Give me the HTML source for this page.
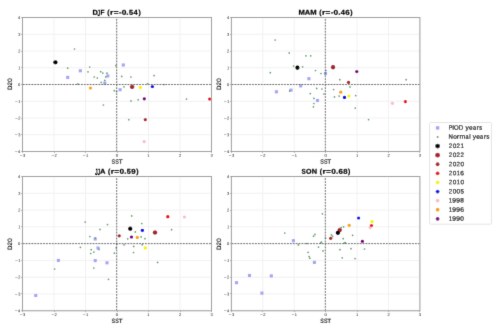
<!DOCTYPE html><html><head><meta charset="utf-8"><style>html,body{margin:0;padding:0;background:#fff;}svg{display:block;will-change:transform;}text{font-family:"Liberation Sans",sans-serif;}</style></head><body>
<svg width="500" height="330" viewBox="0 0 500 330">
<defs><filter id="bl" x="0" y="0" width="500" height="330" filterUnits="userSpaceOnUse"><feConvolveMatrix order="3" kernelMatrix="0.0100 0.0800 0.0100 0.0800 0.6400 0.0800 0.0100 0.0800 0.0100" edgeMode="duplicate"/></filter></defs>
<rect width="500" height="330" fill="#fff"/><g filter="url(#bl)">
<path d="M22.50 17.50V151.50M54.00 17.50V151.50M85.50 17.50V151.50M117.00 17.50V151.50M148.50 17.50V151.50M180.00 17.50V151.50M211.50 17.50V151.50M22.50 151.50H211.50M22.50 134.75H211.50M22.50 118.00H211.50M22.50 101.25H211.50M22.50 84.50H211.50M22.50 67.75H211.50M22.50 51.00H211.50M22.50 34.25H211.50M22.50 17.50H211.50" stroke="#f1f1f1" stroke-width="1" fill="none"/>
<rect x="78.80" y="69.25" width="3.10" height="3.10" fill="#a4a4f6"/>
<rect x="66.15" y="75.85" width="3.10" height="3.10" fill="#a4a4f6"/>
<rect x="106.25" y="74.35" width="3.10" height="3.10" fill="#a4a4f6"/>
<rect x="103.25" y="81.55" width="3.10" height="3.10" fill="#a4a4f6"/>
<rect x="118.55" y="88.15" width="3.10" height="3.10" fill="#a4a4f6"/>
<rect x="121.75" y="63.45" width="3.10" height="3.10" fill="#a4a4f6"/>
<circle cx="74.50" cy="49.00" r="0.85" fill="#5f9c66"/>
<circle cx="67.70" cy="68.20" r="0.85" fill="#5f9c66"/>
<circle cx="89.70" cy="67.00" r="0.85" fill="#5f9c66"/>
<circle cx="88.00" cy="71.80" r="0.85" fill="#5f9c66"/>
<circle cx="94.20" cy="77.00" r="0.85" fill="#5f9c66"/>
<circle cx="97.30" cy="78.00" r="0.85" fill="#5f9c66"/>
<circle cx="100.70" cy="71.70" r="0.85" fill="#5f9c66"/>
<circle cx="102.80" cy="73.10" r="0.85" fill="#5f9c66"/>
<circle cx="107.00" cy="73.20" r="0.85" fill="#5f9c66"/>
<circle cx="105.80" cy="76.90" r="0.85" fill="#5f9c66"/>
<circle cx="104.80" cy="80.40" r="0.85" fill="#5f9c66"/>
<circle cx="101.20" cy="82.40" r="0.85" fill="#5f9c66"/>
<circle cx="77.90" cy="83.90" r="0.85" fill="#5f9c66"/>
<circle cx="115.80" cy="65.70" r="0.85" fill="#5f9c66"/>
<circle cx="121.70" cy="76.40" r="0.85" fill="#5f9c66"/>
<circle cx="130.90" cy="77.00" r="0.85" fill="#5f9c66"/>
<circle cx="147.60" cy="83.60" r="0.85" fill="#5f9c66"/>
<circle cx="124.00" cy="86.80" r="0.85" fill="#5f9c66"/>
<circle cx="114.30" cy="90.70" r="0.85" fill="#5f9c66"/>
<circle cx="116.60" cy="91.60" r="0.85" fill="#5f9c66"/>
<circle cx="138.20" cy="99.80" r="0.85" fill="#5f9c66"/>
<circle cx="131.00" cy="100.90" r="0.85" fill="#5f9c66"/>
<circle cx="103.40" cy="105.00" r="0.85" fill="#5f9c66"/>
<circle cx="154.10" cy="75.60" r="0.85" fill="#5f9c66"/>
<circle cx="163.90" cy="84.50" r="0.85" fill="#5f9c66"/>
<circle cx="186.50" cy="99.10" r="0.85" fill="#5f9c66"/>
<circle cx="128.80" cy="119.70" r="0.85" fill="#5f9c66"/>
<circle cx="144.30" cy="98.80" r="1.60" fill="#7a067a"/>
<circle cx="90.40" cy="88.00" r="1.60" fill="#f7a20c"/>
<circle cx="144.20" cy="141.70" r="1.60" fill="#f6bfca"/>
<circle cx="152.40" cy="86.50" r="1.60" fill="#0808e8"/>
<circle cx="140.40" cy="87.40" r="1.60" fill="#f8f200"/>
<circle cx="209.70" cy="99.10" r="1.60" fill="#ee0a14"/>
<circle cx="145.30" cy="119.60" r="1.60" fill="#a52a2a"/>
<circle cx="132.10" cy="86.80" r="1.85" fill="#ac1f29" stroke="#701018" stroke-width="0.5"/>
<circle cx="55.35" cy="62.30" r="2.10" fill="#000000"/>
<path d="M22.50 84.50H211.50" stroke="#4a4a4a" stroke-width="0.85" stroke-dasharray="1.75 1.16" stroke-dashoffset="-0.31" fill="none"/>
<path d="M116.65 151.50V17.50" stroke="#4a4a4a" stroke-width="0.85" stroke-dasharray="1.8 1.17" stroke-dashoffset="-0.1" fill="none"/>
<rect x="22.50" y="17.50" width="189.00" height="134.00" fill="none" stroke="#a0a0a0" stroke-width="1"/>
<path d="M22.50 151.50v1.4M54.50 151.50v1.4M85.50 151.50v1.4M117.50 151.50v1.4M148.50 151.50v1.4M180.50 151.50v1.4M211.50 151.50v1.4M22.50 151.50h-1.4M22.50 134.50h-1.4M22.50 118.50h-1.4M22.50 101.50h-1.4M22.50 84.50h-1.4M22.50 67.50h-1.4M22.50 51.50h-1.4M22.50 34.50h-1.4M22.50 17.50h-1.4" stroke="#a0a0a0" stroke-width="0.8" fill="none"/>
<text transform="rotate(0.05 19.57 156.85)" y="156.85" font-size="4.132"><tspan x="19.74" y="156.85" textLength="2.934" lengthAdjust="spacingAndGlyphs">−</tspan><tspan x="22.99" y="156.85" textLength="2.196" lengthAdjust="spacingAndGlyphs">3</tspan></text>
<text transform="rotate(0.05 51.11 156.85)" y="156.85" font-size="4.132"><tspan x="51.28" y="156.85" textLength="2.934" lengthAdjust="spacingAndGlyphs">−</tspan><tspan x="54.47" y="156.85" textLength="2.204" lengthAdjust="spacingAndGlyphs">2</tspan></text>
<text transform="rotate(0.05 82.60 156.85)" y="156.85" font-size="4.132"><tspan x="82.76" y="156.85" textLength="2.934" lengthAdjust="spacingAndGlyphs">−</tspan><tspan x="86.00" y="156.85" textLength="2.184" lengthAdjust="spacingAndGlyphs">1</tspan></text>
<text transform="rotate(0.05 115.76 156.85)" y="156.85" font-size="4.132"><tspan x="115.86" y="156.85" textLength="2.286" lengthAdjust="spacingAndGlyphs">0</tspan></text>
<text transform="rotate(0.05 147.23 156.85)" y="156.85" font-size="4.132"><tspan x="147.35" y="156.85" textLength="2.184" lengthAdjust="spacingAndGlyphs">1</tspan></text>
<text transform="rotate(0.05 178.81 156.85)" y="156.85" font-size="4.132"><tspan x="178.90" y="156.85" textLength="2.204" lengthAdjust="spacingAndGlyphs">2</tspan></text>
<text transform="rotate(0.05 210.27 156.85)" y="156.85" font-size="4.132"><tspan x="210.41" y="156.85" textLength="2.196" lengthAdjust="spacingAndGlyphs">3</tspan></text>
<text transform="rotate(0.05 14.62 152.92)" y="152.92" font-size="4.132"><tspan x="14.79" y="152.92" textLength="2.934" lengthAdjust="spacingAndGlyphs">−</tspan><tspan x="17.98" y="152.92" textLength="2.287" lengthAdjust="spacingAndGlyphs">4</tspan></text>
<text transform="rotate(0.05 14.71 136.17)" y="136.17" font-size="4.132"><tspan x="14.88" y="136.17" textLength="2.934" lengthAdjust="spacingAndGlyphs">−</tspan><tspan x="18.13" y="136.17" textLength="2.196" lengthAdjust="spacingAndGlyphs">3</tspan></text>
<text transform="rotate(0.05 14.79 119.42)" y="119.42" font-size="4.132"><tspan x="14.96" y="119.42" textLength="2.934" lengthAdjust="spacingAndGlyphs">−</tspan><tspan x="18.15" y="119.42" textLength="2.204" lengthAdjust="spacingAndGlyphs">2</tspan></text>
<text transform="rotate(0.05 14.76 102.67)" y="102.67" font-size="4.132"><tspan x="14.93" y="102.67" textLength="2.934" lengthAdjust="spacingAndGlyphs">−</tspan><tspan x="18.16" y="102.67" textLength="2.184" lengthAdjust="spacingAndGlyphs">1</tspan></text>
<text transform="rotate(0.05 17.93 85.92)" y="85.92" font-size="4.132"><tspan x="18.02" y="85.92" textLength="2.286" lengthAdjust="spacingAndGlyphs">0</tspan></text>
<text transform="rotate(0.05 18.03 69.17)" y="69.17" font-size="4.132"><tspan x="18.16" y="69.17" textLength="2.184" lengthAdjust="spacingAndGlyphs">1</tspan></text>
<text transform="rotate(0.05 18.06 52.42)" y="52.42" font-size="4.132"><tspan x="18.15" y="52.42" textLength="2.204" lengthAdjust="spacingAndGlyphs">2</tspan></text>
<text transform="rotate(0.05 17.98 35.67)" y="35.67" font-size="4.132"><tspan x="18.13" y="35.67" textLength="2.196" lengthAdjust="spacingAndGlyphs">3</tspan></text>
<text transform="rotate(0.05 17.89 18.92)" y="18.92" font-size="4.132"><tspan x="17.98" y="18.92" textLength="2.287" lengthAdjust="spacingAndGlyphs">4</tspan></text>
<text transform="rotate(0.05 111.35 163.75)" y="163.75" font-size="6.252" stroke="#000" stroke-width="0.12"><tspan x="111.50" y="163.75" textLength="3.508" lengthAdjust="spacingAndGlyphs">S</tspan><tspan x="115.25" y="163.75" textLength="3.508" lengthAdjust="spacingAndGlyphs">S</tspan><tspan x="118.68" y="163.75" textLength="3.931" lengthAdjust="spacingAndGlyphs">T</tspan></text>
<text transform="translate(12.10 84.00) rotate(-89.95)" y="0.00" font-size="6.305" stroke="#000" stroke-width="0.12"><tspan x="-6.09" y="0.00" textLength="4.446" lengthAdjust="spacingAndGlyphs">D</tspan><tspan x="-1.46" y="0.00" textLength="3.362" lengthAdjust="spacingAndGlyphs">2</tspan><tspan x="2.34" y="0.00" textLength="3.488" lengthAdjust="spacingAndGlyphs">0</tspan></text>
<text transform="rotate(0.05 92.39 14.70)" y="14.70" font-size="6.993" font-weight="bold" stroke="#000" stroke-width="0.22"><tspan x="92.51" y="14.70" textLength="5.332" lengthAdjust="spacingAndGlyphs">D</tspan><tspan x="97.43" y="15.94" font-size="8.789" textLength="2.609" lengthAdjust="spacingAndGlyphs">J</tspan><tspan x="100.49" y="14.70" textLength="4.032" lengthAdjust="spacingAndGlyphs">F</tspan><tspan x="104.84" y="14.70"> </tspan><tspan x="107.36" y="14.70" textLength="2.266" lengthAdjust="spacingAndGlyphs">(</tspan><tspan x="110.13" y="14.70" textLength="3.387" lengthAdjust="spacingAndGlyphs">r</tspan><tspan x="113.76" y="14.70" textLength="4.811" lengthAdjust="spacingAndGlyphs">=</tspan><tspan x="118.98" y="14.70" textLength="2.654" lengthAdjust="spacingAndGlyphs">-</tspan><tspan x="121.66" y="14.70" textLength="4.632" lengthAdjust="spacingAndGlyphs">0</tspan><tspan x="126.38" y="14.70" textLength="2.284" lengthAdjust="spacingAndGlyphs">.</tspan><tspan x="129.06" y="14.70" textLength="4.049" lengthAdjust="spacingAndGlyphs">5</tspan><tspan x="133.55" y="14.70" textLength="4.146" lengthAdjust="spacingAndGlyphs">4</tspan><tspan x="138.48" y="14.70" textLength="2.266" lengthAdjust="spacingAndGlyphs">)</tspan></text>
<path d="M231.40 17.50V151.50M262.82 17.50V151.50M294.23 17.50V151.50M325.65 17.50V151.50M357.07 17.50V151.50M388.48 17.50V151.50M419.90 17.50V151.50M231.40 151.50H419.90M231.40 134.75H419.90M231.40 118.00H419.90M231.40 101.25H419.90M231.40 84.50H419.90M231.40 67.75H419.90M231.40 51.00H419.90M231.40 34.25H419.90M231.40 17.50H419.90" stroke="#f1f1f1" stroke-width="1" fill="none"/>
<rect x="307.35" y="77.15" width="3.10" height="3.10" fill="#a4a4f6"/>
<rect x="323.95" y="71.95" width="3.10" height="3.10" fill="#a4a4f6"/>
<rect x="299.15" y="84.35" width="3.10" height="3.10" fill="#a4a4f6"/>
<rect x="289.45" y="88.55" width="3.10" height="3.10" fill="#a4a4f6"/>
<rect x="274.85" y="90.25" width="3.10" height="3.10" fill="#a4a4f6"/>
<rect x="315.95" y="98.95" width="3.10" height="3.10" fill="#a4a4f6"/>
<circle cx="275.20" cy="40.00" r="0.85" fill="#5f9c66"/>
<circle cx="289.20" cy="52.90" r="0.85" fill="#5f9c66"/>
<circle cx="306.00" cy="55.80" r="0.85" fill="#5f9c66"/>
<circle cx="310.70" cy="55.80" r="0.85" fill="#5f9c66"/>
<circle cx="293.60" cy="66.10" r="0.85" fill="#5f9c66"/>
<circle cx="302.60" cy="66.80" r="0.85" fill="#5f9c66"/>
<circle cx="315.50" cy="70.50" r="0.85" fill="#5f9c66"/>
<circle cx="270.30" cy="72.70" r="0.85" fill="#5f9c66"/>
<circle cx="321.00" cy="73.50" r="0.85" fill="#5f9c66"/>
<circle cx="339.80" cy="79.70" r="0.85" fill="#5f9c66"/>
<circle cx="350.00" cy="86.90" r="0.85" fill="#5f9c66"/>
<circle cx="316.70" cy="88.40" r="0.85" fill="#5f9c66"/>
<circle cx="321.90" cy="89.00" r="0.85" fill="#5f9c66"/>
<circle cx="333.60" cy="89.50" r="0.85" fill="#5f9c66"/>
<circle cx="289.70" cy="90.90" r="0.85" fill="#5f9c66"/>
<circle cx="310.30" cy="93.60" r="0.85" fill="#5f9c66"/>
<circle cx="323.90" cy="94.00" r="0.85" fill="#5f9c66"/>
<circle cx="334.50" cy="96.90" r="0.85" fill="#5f9c66"/>
<circle cx="339.10" cy="96.10" r="0.85" fill="#5f9c66"/>
<circle cx="355.70" cy="95.60" r="0.85" fill="#5f9c66"/>
<circle cx="313.90" cy="98.40" r="0.85" fill="#5f9c66"/>
<circle cx="313.90" cy="103.50" r="0.85" fill="#5f9c66"/>
<circle cx="313.40" cy="106.80" r="0.85" fill="#5f9c66"/>
<circle cx="355.30" cy="108.10" r="0.85" fill="#5f9c66"/>
<circle cx="368.60" cy="119.60" r="0.85" fill="#5f9c66"/>
<circle cx="406.10" cy="79.70" r="0.85" fill="#5f9c66"/>
<circle cx="325.90" cy="70.50" r="0.85" fill="#5f9c66"/>
<circle cx="356.80" cy="71.60" r="1.60" fill="#7a067a"/>
<circle cx="340.70" cy="92.20" r="1.60" fill="#f7a20c"/>
<circle cx="392.40" cy="103.30" r="1.60" fill="#f6bfca"/>
<circle cx="344.50" cy="97.40" r="1.60" fill="#0808e8"/>
<circle cx="348.90" cy="96.00" r="1.60" fill="#f8f200"/>
<circle cx="405.40" cy="101.60" r="1.60" fill="#ee0a14"/>
<circle cx="348.50" cy="82.40" r="1.60" fill="#a52a2a"/>
<circle cx="333.05" cy="67.20" r="1.85" fill="#ac1f29" stroke="#701018" stroke-width="0.5"/>
<circle cx="297.40" cy="67.70" r="2.10" fill="#000000"/>
<path d="M231.40 84.50H419.90" stroke="#4a4a4a" stroke-width="0.85" stroke-dasharray="1.75 1.16" stroke-dashoffset="-0.31" fill="none"/>
<path d="M325.30 151.50V17.50" stroke="#4a4a4a" stroke-width="0.85" stroke-dasharray="1.8 1.17" stroke-dashoffset="-0.1" fill="none"/>
<rect x="231.40" y="17.50" width="188.50" height="134.00" fill="none" stroke="#a0a0a0" stroke-width="1"/>
<path d="M231.50 151.50v1.4M262.50 151.50v1.4M294.50 151.50v1.4M325.50 151.50v1.4M357.50 151.50v1.4M388.50 151.50v1.4M419.50 151.50v1.4M231.40 151.50h-1.4M231.40 134.50h-1.4M231.40 118.50h-1.4M231.40 101.50h-1.4M231.40 84.50h-1.4M231.40 67.50h-1.4M231.40 51.50h-1.4M231.40 34.50h-1.4M231.40 17.50h-1.4" stroke="#a0a0a0" stroke-width="0.8" fill="none"/>
<text transform="rotate(0.05 228.47 156.85)" y="156.85" font-size="4.132"><tspan x="228.64" y="156.85" textLength="2.934" lengthAdjust="spacingAndGlyphs">−</tspan><tspan x="231.89" y="156.85" textLength="2.196" lengthAdjust="spacingAndGlyphs">3</tspan></text>
<text transform="rotate(0.05 259.93 156.85)" y="156.85" font-size="4.132"><tspan x="260.10" y="156.85" textLength="2.934" lengthAdjust="spacingAndGlyphs">−</tspan><tspan x="263.28" y="156.85" textLength="2.204" lengthAdjust="spacingAndGlyphs">2</tspan></text>
<text transform="rotate(0.05 291.33 156.85)" y="156.85" font-size="4.132"><tspan x="291.50" y="156.85" textLength="2.934" lengthAdjust="spacingAndGlyphs">−</tspan><tspan x="294.73" y="156.85" textLength="2.184" lengthAdjust="spacingAndGlyphs">1</tspan></text>
<text transform="rotate(0.05 324.41 156.85)" y="156.85" font-size="4.132"><tspan x="324.51" y="156.85" textLength="2.286" lengthAdjust="spacingAndGlyphs">0</tspan></text>
<text transform="rotate(0.05 355.79 156.85)" y="156.85" font-size="4.132"><tspan x="355.92" y="156.85" textLength="2.184" lengthAdjust="spacingAndGlyphs">1</tspan></text>
<text transform="rotate(0.05 387.30 156.85)" y="156.85" font-size="4.132"><tspan x="387.38" y="156.85" textLength="2.204" lengthAdjust="spacingAndGlyphs">2</tspan></text>
<text transform="rotate(0.05 418.67 156.85)" y="156.85" font-size="4.132"><tspan x="418.81" y="156.85" textLength="2.196" lengthAdjust="spacingAndGlyphs">3</tspan></text>
<text transform="rotate(0.05 223.52 152.92)" y="152.92" font-size="4.132"><tspan x="223.69" y="152.92" textLength="2.934" lengthAdjust="spacingAndGlyphs">−</tspan><tspan x="226.88" y="152.92" textLength="2.287" lengthAdjust="spacingAndGlyphs">4</tspan></text>
<text transform="rotate(0.05 223.61 136.17)" y="136.17" font-size="4.132"><tspan x="223.78" y="136.17" textLength="2.934" lengthAdjust="spacingAndGlyphs">−</tspan><tspan x="227.03" y="136.17" textLength="2.196" lengthAdjust="spacingAndGlyphs">3</tspan></text>
<text transform="rotate(0.05 223.69 119.42)" y="119.42" font-size="4.132"><tspan x="223.86" y="119.42" textLength="2.934" lengthAdjust="spacingAndGlyphs">−</tspan><tspan x="227.05" y="119.42" textLength="2.204" lengthAdjust="spacingAndGlyphs">2</tspan></text>
<text transform="rotate(0.05 223.66 102.67)" y="102.67" font-size="4.132"><tspan x="223.83" y="102.67" textLength="2.934" lengthAdjust="spacingAndGlyphs">−</tspan><tspan x="227.06" y="102.67" textLength="2.184" lengthAdjust="spacingAndGlyphs">1</tspan></text>
<text transform="rotate(0.05 226.83 85.92)" y="85.92" font-size="4.132"><tspan x="226.92" y="85.92" textLength="2.286" lengthAdjust="spacingAndGlyphs">0</tspan></text>
<text transform="rotate(0.05 226.93 69.17)" y="69.17" font-size="4.132"><tspan x="227.06" y="69.17" textLength="2.184" lengthAdjust="spacingAndGlyphs">1</tspan></text>
<text transform="rotate(0.05 226.96 52.42)" y="52.42" font-size="4.132"><tspan x="227.05" y="52.42" textLength="2.204" lengthAdjust="spacingAndGlyphs">2</tspan></text>
<text transform="rotate(0.05 226.88 35.67)" y="35.67" font-size="4.132"><tspan x="227.03" y="35.67" textLength="2.196" lengthAdjust="spacingAndGlyphs">3</tspan></text>
<text transform="rotate(0.05 226.79 18.92)" y="18.92" font-size="4.132"><tspan x="226.88" y="18.92" textLength="2.287" lengthAdjust="spacingAndGlyphs">4</tspan></text>
<text transform="rotate(0.05 320.00 163.75)" y="163.75" font-size="6.252" stroke="#000" stroke-width="0.12"><tspan x="320.15" y="163.75" textLength="3.508" lengthAdjust="spacingAndGlyphs">S</tspan><tspan x="323.90" y="163.75" textLength="3.508" lengthAdjust="spacingAndGlyphs">S</tspan><tspan x="327.33" y="163.75" textLength="3.931" lengthAdjust="spacingAndGlyphs">T</tspan></text>
<text transform="translate(221.00 84.00) rotate(-89.95)" y="0.00" font-size="6.305" stroke="#000" stroke-width="0.12"><tspan x="-6.09" y="0.00" textLength="4.446" lengthAdjust="spacingAndGlyphs">D</tspan><tspan x="-1.46" y="0.00" textLength="3.362" lengthAdjust="spacingAndGlyphs">2</tspan><tspan x="2.34" y="0.00" textLength="3.488" lengthAdjust="spacingAndGlyphs">0</tspan></text>
<text transform="rotate(0.05 298.39 14.70)" y="14.70" font-size="6.993" font-weight="bold" stroke="#000" stroke-width="0.22"><tspan x="298.49" y="14.70" textLength="6.377" lengthAdjust="spacingAndGlyphs">M</tspan><tspan x="304.81" y="14.70" textLength="5.429" lengthAdjust="spacingAndGlyphs">A</tspan><tspan x="310.16" y="14.70" textLength="6.377" lengthAdjust="spacingAndGlyphs">M</tspan><tspan x="316.64" y="14.70"> </tspan><tspan x="319.16" y="14.70" textLength="2.266" lengthAdjust="spacingAndGlyphs">(</tspan><tspan x="321.93" y="14.70" textLength="3.387" lengthAdjust="spacingAndGlyphs">r</tspan><tspan x="325.56" y="14.70" textLength="4.811" lengthAdjust="spacingAndGlyphs">=</tspan><tspan x="330.78" y="14.70" textLength="2.654" lengthAdjust="spacingAndGlyphs">-</tspan><tspan x="333.46" y="14.70" textLength="4.632" lengthAdjust="spacingAndGlyphs">0</tspan><tspan x="338.18" y="14.70" textLength="2.284" lengthAdjust="spacingAndGlyphs">.</tspan><tspan x="340.76" y="14.70" textLength="4.146" lengthAdjust="spacingAndGlyphs">4</tspan><tspan x="345.29" y="14.70" textLength="4.405" lengthAdjust="spacingAndGlyphs">6</tspan><tspan x="350.28" y="14.70" textLength="2.266" lengthAdjust="spacingAndGlyphs">)</tspan></text>
<path d="M22.50 176.50V310.75M54.00 176.50V310.75M85.50 176.50V310.75M117.00 176.50V310.75M148.50 176.50V310.75M180.00 176.50V310.75M211.50 176.50V310.75M22.50 310.75H211.50M22.50 293.97H211.50M22.50 277.19H211.50M22.50 260.41H211.50M22.50 243.62H211.50M22.50 226.84H211.50M22.50 210.06H211.50M22.50 193.28H211.50M22.50 176.50H211.50" stroke="#f1f1f1" stroke-width="1" fill="none"/>
<rect x="93.65" y="237.45" width="3.10" height="3.10" fill="#a4a4f6"/>
<rect x="96.45" y="246.45" width="3.10" height="3.10" fill="#a4a4f6"/>
<rect x="56.85" y="258.85" width="3.10" height="3.10" fill="#a4a4f6"/>
<rect x="93.65" y="259.05" width="3.10" height="3.10" fill="#a4a4f6"/>
<rect x="105.45" y="261.25" width="3.10" height="3.10" fill="#a4a4f6"/>
<rect x="34.20" y="293.90" width="3.10" height="3.10" fill="#a4a4f6"/>
<circle cx="85.20" cy="222.10" r="0.85" fill="#5f9c66"/>
<circle cx="107.50" cy="224.60" r="0.85" fill="#5f9c66"/>
<circle cx="100.00" cy="229.40" r="0.85" fill="#5f9c66"/>
<circle cx="89.90" cy="236.50" r="0.85" fill="#5f9c66"/>
<circle cx="80.40" cy="247.30" r="0.85" fill="#5f9c66"/>
<circle cx="99.00" cy="249.40" r="0.85" fill="#5f9c66"/>
<circle cx="91.20" cy="249.70" r="0.85" fill="#5f9c66"/>
<circle cx="93.90" cy="252.10" r="0.85" fill="#5f9c66"/>
<circle cx="90.70" cy="253.50" r="0.85" fill="#5f9c66"/>
<circle cx="116.20" cy="247.90" r="0.85" fill="#5f9c66"/>
<circle cx="114.40" cy="253.20" r="0.85" fill="#5f9c66"/>
<circle cx="116.70" cy="244.10" r="0.85" fill="#5f9c66"/>
<circle cx="127.70" cy="238.80" r="0.85" fill="#5f9c66"/>
<circle cx="124.10" cy="244.80" r="0.85" fill="#5f9c66"/>
<circle cx="131.70" cy="215.90" r="0.85" fill="#5f9c66"/>
<circle cx="141.80" cy="223.50" r="0.85" fill="#5f9c66"/>
<circle cx="135.30" cy="231.90" r="0.85" fill="#5f9c66"/>
<circle cx="141.10" cy="236.90" r="0.85" fill="#5f9c66"/>
<circle cx="145.00" cy="238.70" r="0.85" fill="#5f9c66"/>
<circle cx="133.70" cy="246.40" r="0.85" fill="#5f9c66"/>
<circle cx="142.20" cy="244.70" r="0.85" fill="#5f9c66"/>
<circle cx="133.50" cy="252.50" r="0.85" fill="#5f9c66"/>
<circle cx="171.60" cy="229.70" r="0.85" fill="#5f9c66"/>
<circle cx="157.60" cy="262.40" r="0.85" fill="#5f9c66"/>
<circle cx="54.60" cy="269.00" r="0.85" fill="#5f9c66"/>
<circle cx="93.80" cy="268.00" r="0.85" fill="#5f9c66"/>
<circle cx="108.50" cy="279.30" r="0.85" fill="#5f9c66"/>
<circle cx="95.20" cy="238.10" r="0.85" fill="#5f9c66"/>
<circle cx="131.50" cy="237.00" r="1.60" fill="#7a067a"/>
<circle cx="137.30" cy="237.40" r="1.60" fill="#f7a20c"/>
<circle cx="184.40" cy="217.00" r="1.60" fill="#f6bfca"/>
<circle cx="142.40" cy="230.30" r="1.60" fill="#0808e8"/>
<circle cx="145.30" cy="247.90" r="1.60" fill="#f8f200"/>
<circle cx="167.80" cy="216.70" r="1.60" fill="#ee0a14"/>
<circle cx="119.20" cy="235.80" r="1.60" fill="#a52a2a"/>
<circle cx="155.00" cy="232.50" r="1.85" fill="#ac1f29" stroke="#701018" stroke-width="0.5"/>
<circle cx="130.25" cy="228.70" r="2.10" fill="#000000"/>
<path d="M22.50 243.62H211.50" stroke="#4a4a4a" stroke-width="0.85" stroke-dasharray="1.75 1.16" stroke-dashoffset="-0.31" fill="none"/>
<path d="M116.65 310.75V176.50" stroke="#4a4a4a" stroke-width="0.85" stroke-dasharray="1.8 1.17" stroke-dashoffset="-0.1" fill="none"/>
<rect x="22.50" y="176.50" width="189.00" height="134.25" fill="none" stroke="#a0a0a0" stroke-width="1"/>
<path d="M22.50 310.75v1.4M54.50 310.75v1.4M85.50 310.75v1.4M117.50 310.75v1.4M148.50 310.75v1.4M180.50 310.75v1.4M211.50 310.75v1.4M22.50 310.50h-1.4M22.50 293.50h-1.4M22.50 277.50h-1.4M22.50 260.50h-1.4M22.50 243.50h-1.4M22.50 226.50h-1.4M22.50 210.50h-1.4M22.50 193.50h-1.4M22.50 176.50h-1.4" stroke="#a0a0a0" stroke-width="0.8" fill="none"/>
<text transform="rotate(0.05 19.57 316.10)" y="316.10" font-size="4.132"><tspan x="19.74" y="316.10" textLength="2.934" lengthAdjust="spacingAndGlyphs">−</tspan><tspan x="22.99" y="316.10" textLength="2.196" lengthAdjust="spacingAndGlyphs">3</tspan></text>
<text transform="rotate(0.05 51.11 316.10)" y="316.10" font-size="4.132"><tspan x="51.28" y="316.10" textLength="2.934" lengthAdjust="spacingAndGlyphs">−</tspan><tspan x="54.47" y="316.10" textLength="2.204" lengthAdjust="spacingAndGlyphs">2</tspan></text>
<text transform="rotate(0.05 82.60 316.10)" y="316.10" font-size="4.132"><tspan x="82.76" y="316.10" textLength="2.934" lengthAdjust="spacingAndGlyphs">−</tspan><tspan x="86.00" y="316.10" textLength="2.184" lengthAdjust="spacingAndGlyphs">1</tspan></text>
<text transform="rotate(0.05 115.76 316.10)" y="316.10" font-size="4.132"><tspan x="115.86" y="316.10" textLength="2.286" lengthAdjust="spacingAndGlyphs">0</tspan></text>
<text transform="rotate(0.05 147.23 316.10)" y="316.10" font-size="4.132"><tspan x="147.35" y="316.10" textLength="2.184" lengthAdjust="spacingAndGlyphs">1</tspan></text>
<text transform="rotate(0.05 178.81 316.10)" y="316.10" font-size="4.132"><tspan x="178.90" y="316.10" textLength="2.204" lengthAdjust="spacingAndGlyphs">2</tspan></text>
<text transform="rotate(0.05 210.27 316.10)" y="316.10" font-size="4.132"><tspan x="210.41" y="316.10" textLength="2.196" lengthAdjust="spacingAndGlyphs">3</tspan></text>
<text transform="rotate(0.05 14.62 312.17)" y="312.17" font-size="4.132"><tspan x="14.79" y="312.17" textLength="2.934" lengthAdjust="spacingAndGlyphs">−</tspan><tspan x="17.98" y="312.17" textLength="2.287" lengthAdjust="spacingAndGlyphs">4</tspan></text>
<text transform="rotate(0.05 14.71 295.39)" y="295.39" font-size="4.132"><tspan x="14.88" y="295.39" textLength="2.934" lengthAdjust="spacingAndGlyphs">−</tspan><tspan x="18.13" y="295.39" textLength="2.196" lengthAdjust="spacingAndGlyphs">3</tspan></text>
<text transform="rotate(0.05 14.79 278.61)" y="278.61" font-size="4.132"><tspan x="14.96" y="278.61" textLength="2.934" lengthAdjust="spacingAndGlyphs">−</tspan><tspan x="18.15" y="278.61" textLength="2.204" lengthAdjust="spacingAndGlyphs">2</tspan></text>
<text transform="rotate(0.05 14.76 261.83)" y="261.83" font-size="4.132"><tspan x="14.93" y="261.83" textLength="2.934" lengthAdjust="spacingAndGlyphs">−</tspan><tspan x="18.16" y="261.83" textLength="2.184" lengthAdjust="spacingAndGlyphs">1</tspan></text>
<text transform="rotate(0.05 17.93 245.04)" y="245.04" font-size="4.132"><tspan x="18.02" y="245.04" textLength="2.286" lengthAdjust="spacingAndGlyphs">0</tspan></text>
<text transform="rotate(0.05 18.03 228.26)" y="228.26" font-size="4.132"><tspan x="18.16" y="228.26" textLength="2.184" lengthAdjust="spacingAndGlyphs">1</tspan></text>
<text transform="rotate(0.05 18.06 211.48)" y="211.48" font-size="4.132"><tspan x="18.15" y="211.48" textLength="2.204" lengthAdjust="spacingAndGlyphs">2</tspan></text>
<text transform="rotate(0.05 17.98 194.70)" y="194.70" font-size="4.132"><tspan x="18.13" y="194.70" textLength="2.196" lengthAdjust="spacingAndGlyphs">3</tspan></text>
<text transform="rotate(0.05 17.89 177.92)" y="177.92" font-size="4.132"><tspan x="17.98" y="177.92" textLength="2.287" lengthAdjust="spacingAndGlyphs">4</tspan></text>
<text transform="rotate(0.05 111.35 323.00)" y="323.00" font-size="6.252" stroke="#000" stroke-width="0.12"><tspan x="111.50" y="323.00" textLength="3.508" lengthAdjust="spacingAndGlyphs">S</tspan><tspan x="115.25" y="323.00" textLength="3.508" lengthAdjust="spacingAndGlyphs">S</tspan><tspan x="118.68" y="323.00" textLength="3.931" lengthAdjust="spacingAndGlyphs">T</tspan></text>
<text transform="translate(12.10 244.00) rotate(-89.95)" y="0.00" font-size="6.305" stroke="#000" stroke-width="0.12"><tspan x="-6.09" y="0.00" textLength="4.446" lengthAdjust="spacingAndGlyphs">D</tspan><tspan x="-1.46" y="0.00" textLength="3.362" lengthAdjust="spacingAndGlyphs">2</tspan><tspan x="2.34" y="0.00" textLength="3.488" lengthAdjust="spacingAndGlyphs">0</tspan></text>
<text transform="rotate(0.05 95.37 173.70)" y="173.70" font-size="6.993" font-weight="bold" stroke="#000" stroke-width="0.22"><tspan x="94.93" y="174.94" font-size="8.789" textLength="2.609" lengthAdjust="spacingAndGlyphs">J</tspan><tspan x="97.38" y="174.94" font-size="8.789" textLength="2.609" lengthAdjust="spacingAndGlyphs">J</tspan><tspan x="100.13" y="173.70" textLength="5.429" lengthAdjust="spacingAndGlyphs">A</tspan><tspan x="105.39" y="173.70"> </tspan><tspan x="107.92" y="173.70" textLength="2.266" lengthAdjust="spacingAndGlyphs">(</tspan><tspan x="110.68" y="173.70" textLength="3.387" lengthAdjust="spacingAndGlyphs">r</tspan><tspan x="114.32" y="173.70" textLength="4.811" lengthAdjust="spacingAndGlyphs">=</tspan><tspan x="119.48" y="173.70" textLength="4.632" lengthAdjust="spacingAndGlyphs">0</tspan><tspan x="124.20" y="173.70" textLength="2.284" lengthAdjust="spacingAndGlyphs">.</tspan><tspan x="126.87" y="173.70" textLength="4.049" lengthAdjust="spacingAndGlyphs">5</tspan><tspan x="131.25" y="173.70" textLength="4.396" lengthAdjust="spacingAndGlyphs">9</tspan><tspan x="136.29" y="173.70" textLength="2.266" lengthAdjust="spacingAndGlyphs">)</tspan></text>
<path d="M231.40 176.50V310.75M262.82 176.50V310.75M294.23 176.50V310.75M325.65 176.50V310.75M357.07 176.50V310.75M388.48 176.50V310.75M419.90 176.50V310.75M231.40 310.75H419.90M231.40 293.97H419.90M231.40 277.19H419.90M231.40 260.41H419.90M231.40 243.62H419.90M231.40 226.84H419.90M231.40 210.06H419.90M231.40 193.28H419.90M231.40 176.50H419.90" stroke="#f1f1f1" stroke-width="1" fill="none"/>
<rect x="291.85" y="239.15" width="3.10" height="3.10" fill="#a4a4f6"/>
<rect x="312.85" y="260.85" width="3.10" height="3.10" fill="#a4a4f6"/>
<rect x="247.95" y="273.95" width="3.10" height="3.10" fill="#a4a4f6"/>
<rect x="269.75" y="274.35" width="3.10" height="3.10" fill="#a4a4f6"/>
<rect x="234.95" y="281.15" width="3.10" height="3.10" fill="#a4a4f6"/>
<rect x="260.35" y="291.55" width="3.10" height="3.10" fill="#a4a4f6"/>
<circle cx="322.40" cy="213.80" r="0.85" fill="#5f9c66"/>
<circle cx="284.80" cy="233.00" r="0.85" fill="#5f9c66"/>
<circle cx="315.00" cy="234.40" r="0.85" fill="#5f9c66"/>
<circle cx="313.60" cy="236.20" r="0.85" fill="#5f9c66"/>
<circle cx="298.40" cy="244.90" r="0.85" fill="#5f9c66"/>
<circle cx="306.80" cy="243.50" r="0.85" fill="#5f9c66"/>
<circle cx="321.40" cy="242.20" r="0.85" fill="#5f9c66"/>
<circle cx="320.60" cy="243.20" r="0.85" fill="#5f9c66"/>
<circle cx="318.50" cy="247.10" r="0.85" fill="#5f9c66"/>
<circle cx="323.00" cy="250.90" r="0.85" fill="#5f9c66"/>
<circle cx="308.10" cy="252.30" r="0.85" fill="#5f9c66"/>
<circle cx="309.10" cy="256.50" r="0.85" fill="#5f9c66"/>
<circle cx="309.80" cy="258.20" r="0.85" fill="#5f9c66"/>
<circle cx="325.60" cy="238.00" r="0.85" fill="#5f9c66"/>
<circle cx="331.40" cy="234.90" r="0.85" fill="#5f9c66"/>
<circle cx="332.60" cy="236.40" r="0.85" fill="#5f9c66"/>
<circle cx="343.60" cy="226.80" r="0.85" fill="#5f9c66"/>
<circle cx="341.20" cy="227.60" r="0.85" fill="#5f9c66"/>
<circle cx="352.60" cy="235.30" r="0.85" fill="#5f9c66"/>
<circle cx="343.20" cy="238.70" r="0.85" fill="#5f9c66"/>
<circle cx="345.30" cy="242.70" r="0.85" fill="#5f9c66"/>
<circle cx="344.20" cy="243.10" r="0.85" fill="#5f9c66"/>
<circle cx="339.90" cy="249.70" r="0.85" fill="#5f9c66"/>
<circle cx="351.00" cy="248.70" r="0.85" fill="#5f9c66"/>
<circle cx="364.50" cy="249.00" r="0.85" fill="#5f9c66"/>
<circle cx="342.20" cy="257.80" r="0.85" fill="#5f9c66"/>
<circle cx="355.10" cy="258.60" r="0.85" fill="#5f9c66"/>
<circle cx="362.40" cy="241.40" r="1.60" fill="#7a067a"/>
<circle cx="349.20" cy="225.30" r="1.60" fill="#f7a20c"/>
<circle cx="370.10" cy="227.60" r="1.60" fill="#f6bfca"/>
<circle cx="358.50" cy="218.00" r="1.60" fill="#0808e8"/>
<circle cx="372.00" cy="221.70" r="1.60" fill="#f8f200"/>
<circle cx="371.50" cy="225.50" r="1.60" fill="#ee0a14"/>
<circle cx="330.70" cy="238.30" r="1.60" fill="#a52a2a"/>
<circle cx="339.70" cy="230.00" r="1.85" fill="#ac1f29" stroke="#701018" stroke-width="0.5"/>
<circle cx="337.90" cy="232.80" r="2.10" fill="#000000"/>
<path d="M231.40 243.62H419.90" stroke="#4a4a4a" stroke-width="0.85" stroke-dasharray="1.75 1.16" stroke-dashoffset="-0.31" fill="none"/>
<path d="M325.30 310.75V176.50" stroke="#4a4a4a" stroke-width="0.85" stroke-dasharray="1.8 1.17" stroke-dashoffset="-0.1" fill="none"/>
<rect x="231.40" y="176.50" width="188.50" height="134.25" fill="none" stroke="#a0a0a0" stroke-width="1"/>
<path d="M231.50 310.75v1.4M262.50 310.75v1.4M294.50 310.75v1.4M325.50 310.75v1.4M357.50 310.75v1.4M388.50 310.75v1.4M419.50 310.75v1.4M231.40 310.50h-1.4M231.40 293.50h-1.4M231.40 277.50h-1.4M231.40 260.50h-1.4M231.40 243.50h-1.4M231.40 226.50h-1.4M231.40 210.50h-1.4M231.40 193.50h-1.4M231.40 176.50h-1.4" stroke="#a0a0a0" stroke-width="0.8" fill="none"/>
<text transform="rotate(0.05 228.47 316.10)" y="316.10" font-size="4.132"><tspan x="228.64" y="316.10" textLength="2.934" lengthAdjust="spacingAndGlyphs">−</tspan><tspan x="231.89" y="316.10" textLength="2.196" lengthAdjust="spacingAndGlyphs">3</tspan></text>
<text transform="rotate(0.05 259.93 316.10)" y="316.10" font-size="4.132"><tspan x="260.10" y="316.10" textLength="2.934" lengthAdjust="spacingAndGlyphs">−</tspan><tspan x="263.28" y="316.10" textLength="2.204" lengthAdjust="spacingAndGlyphs">2</tspan></text>
<text transform="rotate(0.05 291.33 316.10)" y="316.10" font-size="4.132"><tspan x="291.50" y="316.10" textLength="2.934" lengthAdjust="spacingAndGlyphs">−</tspan><tspan x="294.73" y="316.10" textLength="2.184" lengthAdjust="spacingAndGlyphs">1</tspan></text>
<text transform="rotate(0.05 324.41 316.10)" y="316.10" font-size="4.132"><tspan x="324.51" y="316.10" textLength="2.286" lengthAdjust="spacingAndGlyphs">0</tspan></text>
<text transform="rotate(0.05 355.79 316.10)" y="316.10" font-size="4.132"><tspan x="355.92" y="316.10" textLength="2.184" lengthAdjust="spacingAndGlyphs">1</tspan></text>
<text transform="rotate(0.05 387.30 316.10)" y="316.10" font-size="4.132"><tspan x="387.38" y="316.10" textLength="2.204" lengthAdjust="spacingAndGlyphs">2</tspan></text>
<text transform="rotate(0.05 418.67 316.10)" y="316.10" font-size="4.132"><tspan x="418.81" y="316.10" textLength="2.196" lengthAdjust="spacingAndGlyphs">3</tspan></text>
<text transform="rotate(0.05 223.52 312.17)" y="312.17" font-size="4.132"><tspan x="223.69" y="312.17" textLength="2.934" lengthAdjust="spacingAndGlyphs">−</tspan><tspan x="226.88" y="312.17" textLength="2.287" lengthAdjust="spacingAndGlyphs">4</tspan></text>
<text transform="rotate(0.05 223.61 295.39)" y="295.39" font-size="4.132"><tspan x="223.78" y="295.39" textLength="2.934" lengthAdjust="spacingAndGlyphs">−</tspan><tspan x="227.03" y="295.39" textLength="2.196" lengthAdjust="spacingAndGlyphs">3</tspan></text>
<text transform="rotate(0.05 223.69 278.61)" y="278.61" font-size="4.132"><tspan x="223.86" y="278.61" textLength="2.934" lengthAdjust="spacingAndGlyphs">−</tspan><tspan x="227.05" y="278.61" textLength="2.204" lengthAdjust="spacingAndGlyphs">2</tspan></text>
<text transform="rotate(0.05 223.66 261.83)" y="261.83" font-size="4.132"><tspan x="223.83" y="261.83" textLength="2.934" lengthAdjust="spacingAndGlyphs">−</tspan><tspan x="227.06" y="261.83" textLength="2.184" lengthAdjust="spacingAndGlyphs">1</tspan></text>
<text transform="rotate(0.05 226.83 245.04)" y="245.04" font-size="4.132"><tspan x="226.92" y="245.04" textLength="2.286" lengthAdjust="spacingAndGlyphs">0</tspan></text>
<text transform="rotate(0.05 226.93 228.26)" y="228.26" font-size="4.132"><tspan x="227.06" y="228.26" textLength="2.184" lengthAdjust="spacingAndGlyphs">1</tspan></text>
<text transform="rotate(0.05 226.96 211.48)" y="211.48" font-size="4.132"><tspan x="227.05" y="211.48" textLength="2.204" lengthAdjust="spacingAndGlyphs">2</tspan></text>
<text transform="rotate(0.05 226.88 194.70)" y="194.70" font-size="4.132"><tspan x="227.03" y="194.70" textLength="2.196" lengthAdjust="spacingAndGlyphs">3</tspan></text>
<text transform="rotate(0.05 226.79 177.92)" y="177.92" font-size="4.132"><tspan x="226.88" y="177.92" textLength="2.287" lengthAdjust="spacingAndGlyphs">4</tspan></text>
<text transform="rotate(0.05 320.00 323.00)" y="323.00" font-size="6.252" stroke="#000" stroke-width="0.12"><tspan x="320.15" y="323.00" textLength="3.508" lengthAdjust="spacingAndGlyphs">S</tspan><tspan x="323.90" y="323.00" textLength="3.508" lengthAdjust="spacingAndGlyphs">S</tspan><tspan x="327.33" y="323.00" textLength="3.931" lengthAdjust="spacingAndGlyphs">T</tspan></text>
<text transform="translate(221.00 244.00) rotate(-89.95)" y="0.00" font-size="6.305" stroke="#000" stroke-width="0.12"><tspan x="-6.09" y="0.00" textLength="4.446" lengthAdjust="spacingAndGlyphs">D</tspan><tspan x="-1.46" y="0.00" textLength="3.362" lengthAdjust="spacingAndGlyphs">2</tspan><tspan x="2.34" y="0.00" textLength="3.488" lengthAdjust="spacingAndGlyphs">0</tspan></text>
<text transform="rotate(0.05 301.33 173.70)" y="173.70" font-size="6.993" font-weight="bold" stroke="#000" stroke-width="0.22"><tspan x="301.62" y="173.70" textLength="4.226" lengthAdjust="spacingAndGlyphs">S</tspan><tspan x="306.12" y="173.70" textLength="5.541" lengthAdjust="spacingAndGlyphs">O</tspan><tspan x="311.81" y="173.70" textLength="5.297" lengthAdjust="spacingAndGlyphs">N</tspan><tspan x="317.21" y="173.70"> </tspan><tspan x="319.74" y="173.70" textLength="2.266" lengthAdjust="spacingAndGlyphs">(</tspan><tspan x="322.51" y="173.70" textLength="3.387" lengthAdjust="spacingAndGlyphs">r</tspan><tspan x="326.14" y="173.70" textLength="4.811" lengthAdjust="spacingAndGlyphs">=</tspan><tspan x="331.30" y="173.70" textLength="4.632" lengthAdjust="spacingAndGlyphs">0</tspan><tspan x="336.02" y="173.70" textLength="2.284" lengthAdjust="spacingAndGlyphs">.</tspan><tspan x="338.53" y="173.70" textLength="4.405" lengthAdjust="spacingAndGlyphs">6</tspan><tspan x="343.16" y="173.70" textLength="4.259" lengthAdjust="spacingAndGlyphs">8</tspan><tspan x="348.12" y="173.70" textLength="2.266" lengthAdjust="spacingAndGlyphs">)</tspan></text>
<rect x="429.5" y="122.5" width="62" height="101.7" rx="1" fill="#fff" stroke="#e2e2e2" stroke-width="0.9"/>
<rect x="435.90" y="126.20" width="3.4" height="3.4" fill="#a4a4f6"/>
<text transform="rotate(0.05 448.50 129.70)" y="129.70" font-size="6.464" stroke="#000" stroke-width="0.2"><tspan x="448.66" y="129.70" textLength="3.598" lengthAdjust="spacingAndGlyphs">P</tspan><tspan x="452.18" y="129.70" textLength="1.792" lengthAdjust="spacingAndGlyphs">I</tspan><tspan x="454.04" y="129.70" textLength="4.690" lengthAdjust="spacingAndGlyphs">O</tspan><tspan x="458.86" y="129.70" textLength="4.558" lengthAdjust="spacingAndGlyphs">D</tspan><tspan x="463.48" y="129.70"> </tspan><tspan x="465.58" y="129.70" textLength="3.275" lengthAdjust="spacingAndGlyphs">y</tspan><tspan x="469.08" y="129.70" textLength="3.664" lengthAdjust="spacingAndGlyphs">e</tspan><tspan x="472.91" y="129.70" textLength="3.051" lengthAdjust="spacingAndGlyphs">a</tspan><tspan x="476.55" y="129.70" textLength="2.603" lengthAdjust="spacingAndGlyphs">r</tspan><tspan x="479.19" y="129.70" textLength="2.924" lengthAdjust="spacingAndGlyphs">s</tspan></text>
<circle cx="437.60" cy="136.99" r="1.0" fill="#5f9c66"/>
<text transform="rotate(0.05 448.50 138.81)" y="138.81" font-size="6.464" stroke="#000" stroke-width="0.2"><tspan x="448.61" y="138.81" textLength="4.351" lengthAdjust="spacingAndGlyphs">N</tspan><tspan x="453.13" y="138.81" textLength="3.607" lengthAdjust="spacingAndGlyphs">o</tspan><tspan x="456.83" y="138.81" textLength="2.603" lengthAdjust="spacingAndGlyphs">r</tspan><tspan x="459.40" y="138.81" textLength="5.790" lengthAdjust="spacingAndGlyphs">m</tspan><tspan x="465.38" y="138.81" textLength="3.051" lengthAdjust="spacingAndGlyphs">a</tspan><tspan x="469.14" y="138.81" textLength="1.385" lengthAdjust="spacingAndGlyphs">l</tspan><tspan x="470.68" y="138.81"> </tspan><tspan x="472.78" y="138.81" textLength="3.275" lengthAdjust="spacingAndGlyphs">y</tspan><tspan x="476.28" y="138.81" textLength="3.664" lengthAdjust="spacingAndGlyphs">e</tspan><tspan x="480.11" y="138.81" textLength="3.051" lengthAdjust="spacingAndGlyphs">a</tspan><tspan x="483.75" y="138.81" textLength="2.603" lengthAdjust="spacingAndGlyphs">r</tspan><tspan x="486.40" y="138.81" textLength="2.924" lengthAdjust="spacingAndGlyphs">s</tspan></text>
<circle cx="437.60" cy="146.08" r="2.40" fill="#000000"/>
<text transform="rotate(0.05 448.65 147.92)" y="147.92" font-size="6.464" stroke="#000" stroke-width="0.2"><tspan x="448.79" y="147.92" textLength="3.447" lengthAdjust="spacingAndGlyphs">2</tspan><tspan x="452.69" y="147.92" textLength="3.576" lengthAdjust="spacingAndGlyphs">0</tspan><tspan x="456.55" y="147.92" textLength="3.447" lengthAdjust="spacingAndGlyphs">2</tspan><tspan x="460.50" y="147.92" textLength="3.416" lengthAdjust="spacingAndGlyphs">1</tspan></text>
<circle cx="437.60" cy="155.17" r="2.40" fill="#ac1f29"/>
<text transform="rotate(0.05 448.65 157.03)" y="157.03" font-size="6.464" stroke="#000" stroke-width="0.2"><tspan x="448.79" y="157.03" textLength="3.447" lengthAdjust="spacingAndGlyphs">2</tspan><tspan x="452.69" y="157.03" textLength="3.576" lengthAdjust="spacingAndGlyphs">0</tspan><tspan x="456.55" y="157.03" textLength="3.447" lengthAdjust="spacingAndGlyphs">2</tspan><tspan x="460.43" y="157.03" textLength="3.447" lengthAdjust="spacingAndGlyphs">2</tspan></text>
<circle cx="437.60" cy="164.26" r="1.90" fill="#a52a2a"/>
<text transform="rotate(0.05 448.65 166.14)" y="166.14" font-size="6.464" stroke="#000" stroke-width="0.2"><tspan x="448.79" y="166.14" textLength="3.447" lengthAdjust="spacingAndGlyphs">2</tspan><tspan x="452.69" y="166.14" textLength="3.576" lengthAdjust="spacingAndGlyphs">0</tspan><tspan x="456.55" y="166.14" textLength="3.447" lengthAdjust="spacingAndGlyphs">2</tspan><tspan x="460.45" y="166.14" textLength="3.576" lengthAdjust="spacingAndGlyphs">0</tspan></text>
<circle cx="437.60" cy="173.35" r="1.90" fill="#ee0a14"/>
<text transform="rotate(0.05 448.65 175.25)" y="175.25" font-size="6.464" stroke="#000" stroke-width="0.2"><tspan x="448.79" y="175.25" textLength="3.447" lengthAdjust="spacingAndGlyphs">2</tspan><tspan x="452.69" y="175.25" textLength="3.576" lengthAdjust="spacingAndGlyphs">0</tspan><tspan x="456.62" y="175.25" textLength="3.416" lengthAdjust="spacingAndGlyphs">1</tspan><tspan x="460.38" y="175.25" textLength="3.701" lengthAdjust="spacingAndGlyphs">6</tspan></text>
<circle cx="437.60" cy="182.44" r="1.90" fill="#f8f200"/>
<text transform="rotate(0.05 448.65 184.36)" y="184.36" font-size="6.464" stroke="#000" stroke-width="0.2"><tspan x="448.79" y="184.36" textLength="3.447" lengthAdjust="spacingAndGlyphs">2</tspan><tspan x="452.69" y="184.36" textLength="3.576" lengthAdjust="spacingAndGlyphs">0</tspan><tspan x="456.62" y="184.36" textLength="3.416" lengthAdjust="spacingAndGlyphs">1</tspan><tspan x="460.45" y="184.36" textLength="3.576" lengthAdjust="spacingAndGlyphs">0</tspan></text>
<circle cx="437.60" cy="191.53" r="1.90" fill="#0808e8"/>
<text transform="rotate(0.05 448.65 193.47)" y="193.47" font-size="6.464" stroke="#000" stroke-width="0.2"><tspan x="448.79" y="193.47" textLength="3.447" lengthAdjust="spacingAndGlyphs">2</tspan><tspan x="452.69" y="193.47" textLength="3.576" lengthAdjust="spacingAndGlyphs">0</tspan><tspan x="456.57" y="193.47" textLength="3.576" lengthAdjust="spacingAndGlyphs">0</tspan><tspan x="460.52" y="193.47" textLength="3.375" lengthAdjust="spacingAndGlyphs">5</tspan></text>
<circle cx="437.60" cy="200.62" r="1.90" fill="#f6bfca"/>
<text transform="rotate(0.05 448.43 202.58)" y="202.58" font-size="6.464" stroke="#000" stroke-width="0.2"><tspan x="448.63" y="202.58" textLength="3.416" lengthAdjust="spacingAndGlyphs">1</tspan><tspan x="452.38" y="202.58" textLength="3.694" lengthAdjust="spacingAndGlyphs">9</tspan><tspan x="456.26" y="202.58" textLength="3.694" lengthAdjust="spacingAndGlyphs">9</tspan><tspan x="460.20" y="202.58" textLength="3.615" lengthAdjust="spacingAndGlyphs">8</tspan></text>
<circle cx="437.60" cy="209.71" r="1.90" fill="#f7a20c"/>
<text transform="rotate(0.05 448.43 211.69)" y="211.69" font-size="6.464" stroke="#000" stroke-width="0.2"><tspan x="448.63" y="211.69" textLength="3.416" lengthAdjust="spacingAndGlyphs">1</tspan><tspan x="452.38" y="211.69" textLength="3.694" lengthAdjust="spacingAndGlyphs">9</tspan><tspan x="456.26" y="211.69" textLength="3.694" lengthAdjust="spacingAndGlyphs">9</tspan><tspan x="460.16" y="211.69" textLength="3.701" lengthAdjust="spacingAndGlyphs">6</tspan></text>
<circle cx="437.60" cy="218.80" r="1.90" fill="#7a067a"/>
<text transform="rotate(0.05 448.43 220.80)" y="220.80" font-size="6.464" stroke="#000" stroke-width="0.2"><tspan x="448.63" y="220.80" textLength="3.416" lengthAdjust="spacingAndGlyphs">1</tspan><tspan x="452.38" y="220.80" textLength="3.694" lengthAdjust="spacingAndGlyphs">9</tspan><tspan x="456.26" y="220.80" textLength="3.694" lengthAdjust="spacingAndGlyphs">9</tspan><tspan x="460.22" y="220.80" textLength="3.576" lengthAdjust="spacingAndGlyphs">0</tspan></text>
</g></svg></body></html>
